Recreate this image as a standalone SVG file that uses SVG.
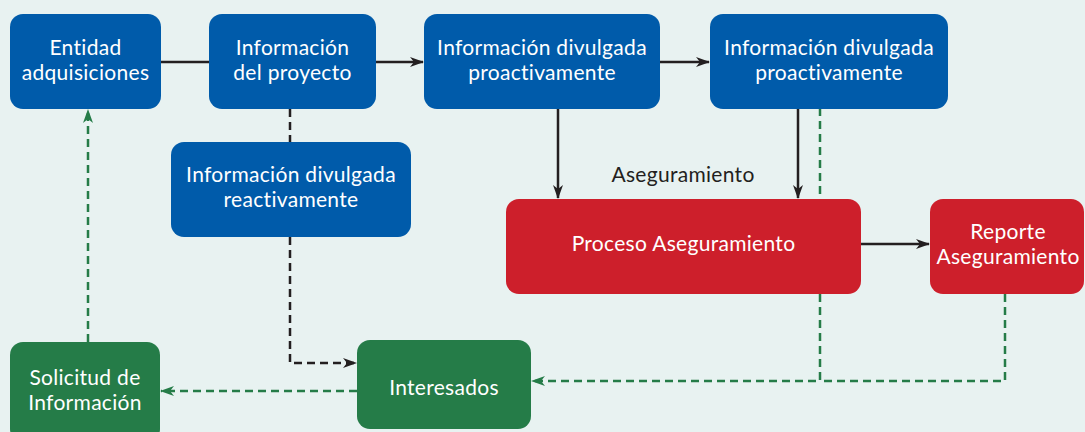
<svg xmlns="http://www.w3.org/2000/svg" width="1085" height="432" viewBox="0 0 1085 432">
<defs>
<style>
.bg{fill:#e8f2f1}
.blue{fill:#005baa}
.red{fill:#cd1f2b}
.green{fill:#257c48}
text{font-family:Lato,"Open Sans",sans-serif;font-size:21px;letter-spacing:0.3px;font-variant-ligatures:none;text-anchor:middle}
.w{fill:#ffffff}
.k{fill:#231f20}
.solid{stroke:#231f20;stroke-width:2.5;fill:none}
.dk{stroke:#231f20;stroke-width:2.5;fill:none;stroke-dasharray:8 5}
.dg{stroke:#257c48;stroke-width:2.5;fill:none;stroke-dasharray:8 5}
</style>
<marker id="ak" viewBox="0 0 14 10" refX="13" refY="5" markerWidth="14" markerHeight="10" markerUnits="userSpaceOnUse" orient="auto"><path d="M0,0 L14,5 L0,10 L4,5 Z" fill="#231f20"/></marker>
<marker id="ag" viewBox="0 0 14 10" refX="13" refY="5" markerWidth="14" markerHeight="10" markerUnits="userSpaceOnUse" orient="auto"><path d="M0,0 L14,5 L0,10 L4,5 Z" fill="#257c48"/></marker>
</defs>
<rect class="bg" x="0" y="0" width="1085" height="432"/>
<g id="connectors">
<line class="solid" x1="161" y1="62" x2="209" y2="62"/>
<line class="solid" x1="376" y1="62" x2="423" y2="62" marker-end="url(#ak)"/>
<line class="solid" x1="660" y1="62" x2="709" y2="62" marker-end="url(#ak)"/>
<line class="solid" x1="558" y1="108" x2="558" y2="198" marker-end="url(#ak)"/>
<line class="solid" x1="798" y1="108" x2="798" y2="198" marker-end="url(#ak)"/>
<line class="solid" x1="858" y1="244" x2="929" y2="244" marker-end="url(#ak)"/>
<line class="dk" x1="290" y1="109" x2="290" y2="142"/>
<polyline class="dk" points="290,237 290,363 356,363" marker-end="url(#ak)"/>
<line class="dg" x1="820" y1="108" x2="820" y2="199"/>
<polyline class="dg" points="820,294 820,381 532,381" marker-end="url(#ag)"/>
<polyline class="dg" points="1005,294 1005,381 820,381"/>
<line class="dg" x1="357" y1="391" x2="161" y2="391" marker-end="url(#ag)"/>
<line class="dg" x1="88" y1="342" x2="88" y2="110" marker-end="url(#ag)"/>
</g>
<g id="n-entidad"><rect class="blue" x="10" y="14" width="151" height="95" rx="13"/><text class="w" x="85.5" y="54.5">Entidad</text><text class="w" x="85.5" y="80">adquisiciones</text></g>
<g id="n-infoproyecto"><rect class="blue" x="209" y="14" width="167" height="95" rx="13"/><text class="w" x="292.5" y="54.5">Información</text><text class="w" x="292.5" y="80">del proyecto</text></g>
<g id="n-proactiva1"><rect class="blue" x="424" y="14" width="236" height="95" rx="13"/><text class="w" x="542" y="54.5">Información divulgada</text><text class="w" x="542" y="80">proactivamente</text></g>
<g id="n-proactiva2"><rect class="blue" x="710" y="14" width="238" height="95" rx="13"/><text class="w" x="829" y="54.5">Información divulgada</text><text class="w" x="829" y="80">proactivamente</text></g>
<g id="n-reactiva"><rect class="blue" x="171" y="142" width="240" height="95" rx="13"/><text class="w" x="291" y="181.5">Información divulgada</text><text class="w" x="291" y="207">reactivamente</text></g>
<g id="lbl-aseg"><text class="k" x="683" y="182">Aseguramiento</text></g>
<g id="n-proceso"><rect class="red" x="506" y="199" width="355" height="95" rx="13"/><text class="w" x="683.5" y="251">Proceso Aseguramiento</text></g>
<g id="n-reporte"><rect class="red" x="930" y="199" width="154" height="95" rx="13"/><text class="w" x="1008" y="238.5">Reporte</text><text class="w" x="1008" y="264">Aseguramiento</text></g>
<g id="n-solicitud"><rect class="green" x="10" y="342" width="150" height="100" rx="13"/><text class="w" x="85" y="384.5">Solicitud de</text><text class="w" x="85" y="410">Información</text></g>
<g id="n-interesados"><rect class="green" x="357" y="340" width="174" height="89" rx="13"/><text class="w" x="444" y="395">Interesados</text></g>
</svg>
